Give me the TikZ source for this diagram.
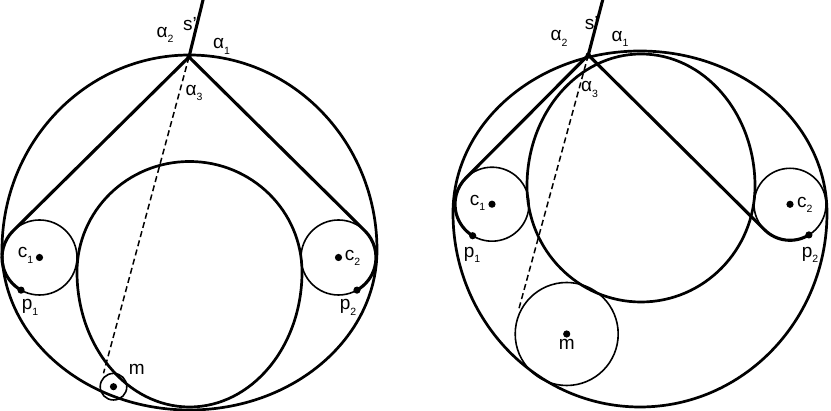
\documentclass[tikz,border=0pt]{standalone}
\usepackage{fontspec}
\setmainfont{Liberation Sans}
\usetikzlibrary{calc}
\newcommand{\lbsub}[2]{#1\raisebox{-5.5pt}{\fontsize{10.5}{10.5}\selectfont #2}}
\begin{document}
\begin{tikzpicture}[x=1pt,y=1pt,
  bigring/.style={line width=2.7pt},
  thinring/.style={line width=1.6pt},
  belt/.style={line width=3.1pt, line join=round},
  guide/.style={line width=1.5pt, dash pattern=on 6pt off 3.5pt},
  lab/.style={font=\fontsize{19}{19}\selectfont, inner sep=0pt}]
\useasboundingbox (0,0) rectangle (831,411);

% ---------------- left figure ----------------
\coordinate (S1) at (189,354);
\coordinate (S1top) at (203.5,413);
\coordinate (C1) at (39.5,153.5);
\coordinate (C2) at (338.5,153.5);
\coordinate (M1) at (113.5,24.3);
\coordinate (M1end) at (103.5,37.7);

\draw[bigring] (377,161) arc[start angle=0,end angle=180,x radius=187.5,y radius=195]
  arc[start angle=180,end angle=360,x radius=187.5,y radius=160] -- cycle;
\draw[bigring] (302,139) arc[start angle=0,end angle=180,x radius=112.5,y radius=110.5]
  arc[start angle=180,end angle=360,x radius=112.5,y radius=135] -- cycle;

\draw[thinring] (C1) circle[radius=37.5];
\draw[thinring] (C2) circle[radius=37.5];
\draw[thinring] (M1) circle[radius=13.3];

\draw[belt] (S1top) -- (S1);
\draw[belt] (S1) -- ($(C1)+(134.7:37.5)$) arc[start angle=134.7,end angle=240.5,radius=37.5] coordinate (P1);
\draw[belt] (S1) -- ($(C2)+(45.3:37.5)$) arc[start angle=45.3,end angle=-60.5,radius=37.5] coordinate (P2);
\draw[guide] (S1) -- (M1end);

\foreach \p in {C1,C2,M1,P1,P2} \fill (\p) circle[radius=3.6];
\fill (S1) circle[radius=2.6];

\node[lab] (s1lab) at (190,387) {s’};
\node[lab] (a2l) at (165,376) {\lbsub{α}{2}};
\node[lab] (a1l) at (221.5,364.5) {\lbsub{α}{1}};
\node[lab] (a3l) at (194,318) {\lbsub{α}{3}};
\node[lab] (c1l) at (25.5,155.5) {\lbsub{c}{1}};
\node[lab] (c2l) at (352.5,153) {\lbsub{c}{2}};
\node[lab] (p1l) at (30,103.5) {\lbsub{p}{1}};
\node[lab] (p2l) at (348,103.5) {\lbsub{p}{2}};
\node[lab] (m1l) at (136.7,42) {m};

% ---------------- right figure ----------------
\coordinate (S2) at (588.3,356);
\coordinate (S2top) at (603.2,413);
\coordinate (C3) at (492,206.8);
\coordinate (C4) at (790,206.7);
\coordinate (M2) at (566.7,77);
\coordinate (M2end) at (518.3,100);

\draw[bigring] (827,198) arc[start angle=0,end angle=180,x radius=187,y radius=162]
  arc[start angle=180,end angle=360,x radius=187,y radius=194] -- cycle;
\draw[bigring] (755,225) arc[start angle=0,end angle=180,x radius=114,y radius=132]
  arc[start angle=180,end angle=360,x radius=114,y radius=116] -- cycle;

\draw[thinring] (C3) circle[radius=37];
\draw[thinring] (C4) circle[radius=36];
\draw[thinring] (M2) circle[radius=51.5];

\draw[belt] (S2top) -- (S2);
\draw[belt] (S2) -- ($(C3)+(135:37)$) arc[start angle=135,end angle=238.5,radius=37] coordinate (P3);
\draw[belt] (S2) -- ($(C4)+(225.1:36)$) arc[start angle=225.1,end angle=301.7,radius=36] coordinate (P4);
\draw[guide] (S2) -- (M2end);

\foreach \p in {C3,C4,M2,P3,P4} \fill (\p) circle[radius=3.6];
\fill (S2) circle[radius=2.6];

\node[lab] (s2lab) at (591.7,388) {s’};
\node[lab] (b2l) at (559,372.5) {\lbsub{α}{2}};
\node[lab] (b1l) at (620,372) {\lbsub{α}{1}};
\node[lab] (b3l) at (589.5,321.5) {\lbsub{α}{3}};
\node[lab] (c3l) at (477.5,208) {\lbsub{c}{1}};
\node[lab] (c4l) at (804.7,206) {\lbsub{c}{2}};
\node[lab] (p3l) at (472,156) {\lbsub{p}{1}};
\node[lab] (p4l) at (810,156) {\lbsub{p}{2}};
\node[lab] (m2l) at (566.7,67) {m};
\end{tikzpicture}
\end{document}
